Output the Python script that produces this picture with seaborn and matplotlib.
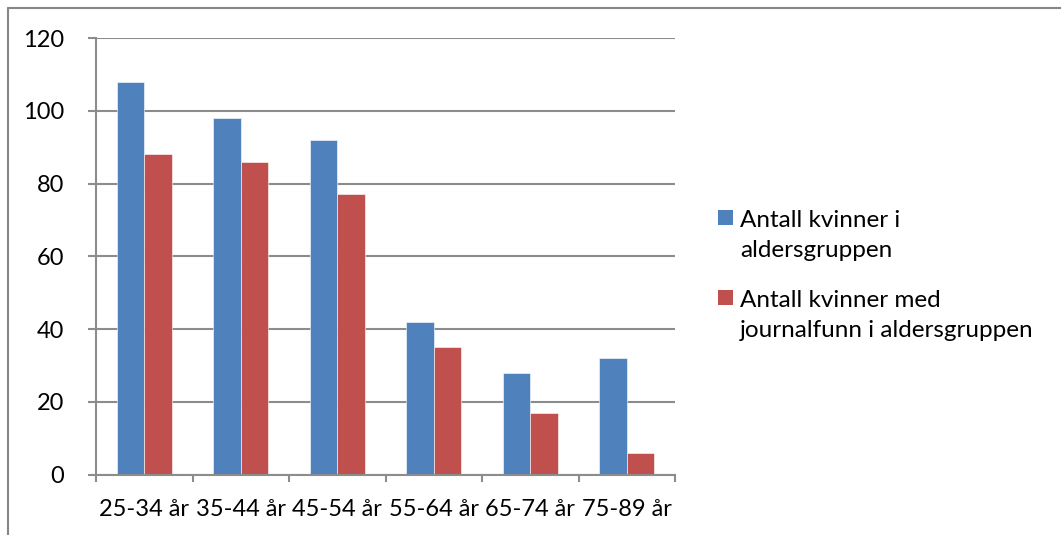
import matplotlib
matplotlib.use("Agg")
import matplotlib.pyplot as plt
from matplotlib.lines import Line2D
from matplotlib.patches import Rectangle
import seaborn as sns
import pandas as pd

groups = ["25-34 år", "35-44 år", "45-54 år", "55-64 år", "65-74 år", "75-89 år"]
antall_totalt = [108, 98, 92, 42, 28, 32]
antall_journalfunn = [88, 86, 77, 35, 17, 6]
serie_navn = ["Antall kvinner i aldersgruppen",
              "Antall kvinner med journalfunn i aldersgruppen"]
legend_linjer = [["Antall kvinner i", "aldersgruppen"],
                 ["Antall kvinner med", "journalfunn i aldersgruppen"]]
farger = ["#4F81BD", "#C0504D"]

df = pd.DataFrame({
    "gruppe": groups * 2,
    "antall": antall_totalt + antall_journalfunn,
    "serie": [serie_navn[0]] * len(groups) + [serie_navn[1]] * len(groups),
})

sns.set_theme(style="white")
plt.rcParams["font.family"] = ["Lato", "DejaVu Sans"]
fs = 17
fs_leg = 17.5

W, H = 1061, 535
fig = plt.figure(figsize=(W / 100, H / 100), dpi=100)
ax = fig.add_axes([96 / W, 1 - 474.5 / H, (675 - 96) / W, (474.5 - 38) / H])

sns.barplot(data=df, x="gruppe", y="antall", hue="serie", palette=farger,
            width=0.57, saturation=1, ax=ax, legend=False,
            edgecolor="white", linewidth=0.4)

grid_col = "#8c8c8c"
ax.set_ylim(0, 120)
ax.set_xlim(-0.5, 5.5)
ax.set_yticks(range(0, 121, 20))
ax.yaxis.grid(True, color=grid_col, linewidth=1.5)
ax.set_axisbelow(True)
ax.tick_params(axis="y", length=6, width=1.5, color=grid_col, pad=17,
               labelsize=fs, labelcolor="black", left=True)

# category boundaries as ticks, labels in the middle
ax.set_xticks([i - 0.5 for i in range(len(groups) + 1)])
ax.set_xticklabels([])
ax.set_xticks(range(len(groups)), minor=True)
ax.set_xticklabels(groups, minor=True, fontsize=fs)
ax.tick_params(axis="x", which="major", length=5, width=1.5, color=grid_col,
               bottom=True, direction="out")
ax.tick_params(axis="x", which="minor", length=0, pad=18, labelcolor="black")
ax.set_xlabel("")
ax.set_ylabel("")

for side in ["top", "right"]:
    ax.spines[side].set_visible(False)
for side in ["left", "bottom"]:
    ax.spines[side].set_color(grid_col)
    ax.spines[side].set_linewidth(1.5)

# chart border (cropped frame)
fig.add_artist(Line2D([8 / W, 8 / W], [0, 1 - 8 / H], color="#868686", lw=1.5,
                      transform=fig.transFigure))
fig.add_artist(Line2D([8 / W, 1], [1 - 8 / H, 1 - 8 / H], color="#868686", lw=1.5,
                      transform=fig.transFigure))

# legend, Excel style: marker next to first line of wrapped text
for i, (farge, linjer) in enumerate(zip(farger, legend_linjer)):
    y0 = 227 + i * 80
    fig.add_artist(Rectangle((718 / W, 1 - (y0 - 2) / H), 15 / W, 15 / H,
                             facecolor=farge, edgecolor="none",
                             transform=fig.transFigure))
    for j, linje in enumerate(linjer):
        fig.text(740 / W, 1 - (y0 + j * 30) / H, linje, fontsize=fs_leg,
                 ha="left", va="baseline", color="black")

fig.savefig("out.png", dpi=100)
